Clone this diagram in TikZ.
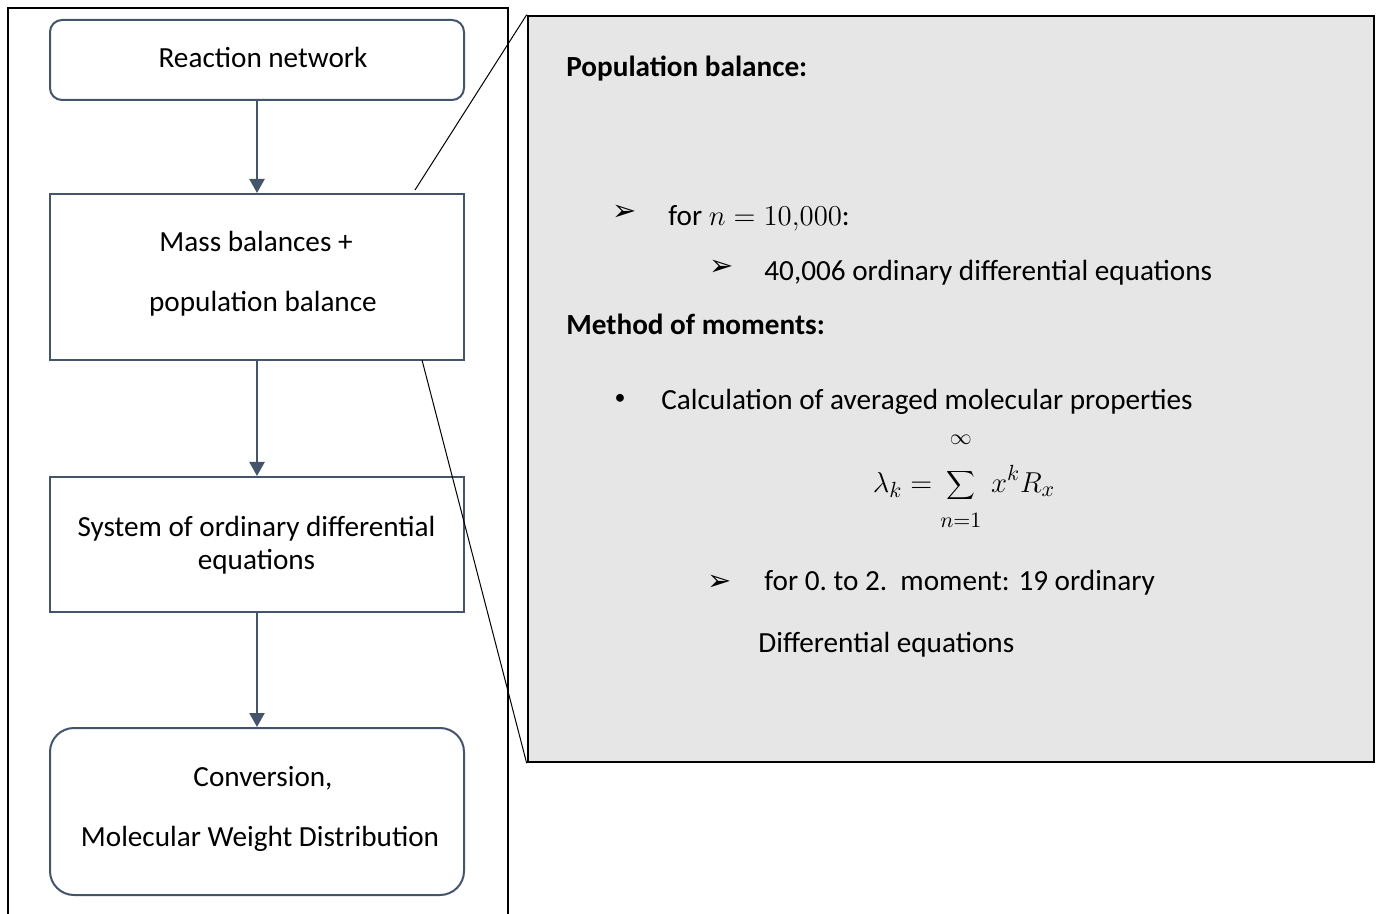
\documentclass[tikz,border=0pt]{standalone}
\usepackage{fontspec}
\setmainfont{Carlito}
\newfontfamily\symfont{DejaVu Sans}
\usetikzlibrary{arrows.meta}
\definecolor{slate}{HTML}{44546A}
\definecolor{panelgray}{HTML}{E6E6E6}
\begin{document}
\begin{tikzpicture}[x=0.5pt,y=-0.5pt,
  flowbox/.style={draw=slate, line width=1pt, minimum width=207pt, inner sep=0pt},
  boxtxt/.style={anchor=base, inner sep=0pt, font=\fontsize{14.6}{17}\selectfont},
  flowarrow/.style={draw=slate, line width=1.2pt, -{Triangle[length=7pt,width=7.5pt]}},
  txt/.style={anchor=base west, inner sep=0pt, font=\fontsize{14.6}{17}\selectfont},
  boldtxt/.style={anchor=base west, inner sep=0pt, font=\bfseries\fontsize{14.6}{17}\selectfont},
  bul/.style={anchor=center, inner sep=0pt, font=\symfont\fontsize{14.5}{16}\selectfont},
  zoomline/.style={draw=black, line width=0.5pt}]
\useasboundingbox (0,0) rectangle (1376,914);
\clip (0,0) rectangle (1376,914);
% outer frame
\coordinate (ftl) at (8,8);
\coordinate (fbr) at (508,960);
\draw[line width=1.3pt] (ftl) rectangle (fbr);
% flow boxes
\node[flowbox, rounded corners=6pt, minimum height=40pt] (rn) at (257,60) {};
\node[flowbox, minimum height=83pt] (mb) at (257,277) {};
\node[flowbox, minimum height=67.5pt] (ode) at (257,544.5) {};
\node[flowbox, rounded corners=12pt, minimum height=83.5pt] (cv) at (257,811.5) {};
\node[boxtxt] (rnt) at (263,68) {Reaction network};
\node[boxtxt] (mbt1) at (256,252) {Mass balances +};
\node[boxtxt] (mbt2) at (263,312) {population balance};
\node[boxtxt] (odet1) at (256.5,536) {System of ordinary differential};
\node[boxtxt] (odet2) at (256.5,569) {equations};
\node[boxtxt] (cvt1) at (263,786) {Conversion,};
\node[boxtxt] (cvt2) at (260,846) {Molecular Weight Distribution};
\draw[flowarrow] (rn) -- (mb);
\draw[flowarrow] (mb) -- (ode);
\draw[flowarrow] (ode) -- (cv);
% detail panel
\node[draw=black, line width=1.3pt, fill=panelgray, minimum width=423pt, minimum height=373pt, inner sep=0pt] (panel) at (951,389) {};
\coordinate (z1) at (415,190);
\coordinate (z2) at (422,360);
\draw[zoomline] (z1) -- (panel.north west);
\draw[zoomline] (z2) -- (panel.south west);
% panel text
\node[boldtxt] (pb) at (566,77) {Population balance:};
\node[bul] (b1) at (625,213) {➢};
\node[txt] (t1) at (668,226) {for $n=10{,}000$:};
\node[bul] (b2) at (722,268) {➢};
\node[txt] (t2) at (764,281) {40,006 ordinary differential equations};
\node[boldtxt] (mm) at (566,335) {Method of moments:};
\node[anchor=center, inner sep=0pt, font=\fontsize{11}{13}\selectfont] (b3) at (620,399) {•};
\node[txt] (t3) at (661,410) {Calculation of averaged molecular properties};
\node[inner sep=0pt, font=\fontsize{15}{18}\selectfont] (eq) at (964,481) {$\displaystyle \lambda_k = \sum_{\rule{0pt}{11.5pt}n=1}^{\raisebox{10.5pt}{$\scriptstyle\infty$}} \, x^k R_x$};
\node[bul] (b4) at (720,583) {➢};
\node[txt] (t4) at (764,590) {for 0.~to 2.\ \ moment: 19 ordinary};
\node[txt] (t5) at (758,652) {Differential equations};
\end{tikzpicture}
\end{document}
